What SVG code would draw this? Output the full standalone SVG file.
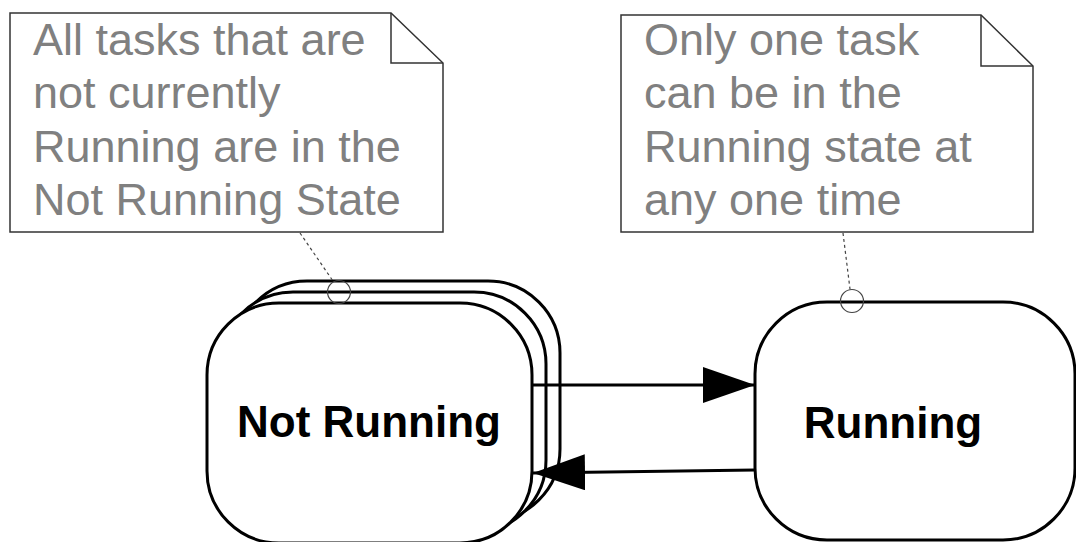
<svg xmlns="http://www.w3.org/2000/svg" width="1076" height="542" viewBox="0 0 1076 542">
<style>
.note{fill:#fff;stroke:#333;stroke-width:1.5}
.fold{fill:none;stroke:#333;stroke-width:1.5}
.ntext{font-family:"Liberation Sans",Arial,sans-serif;font-size:45px;fill:#808080}
.state{fill:#fff;stroke:#000;stroke-width:3}
.label{font-family:"Liberation Sans",Arial,sans-serif;font-size:44px;font-weight:bold;fill:#000;text-anchor:middle}
.anchor{fill:none;stroke:#444;stroke-width:1.2}
.dash{fill:none;stroke:#444;stroke-width:1.2;stroke-dasharray:3,3}
.conn{fill:none;stroke:#000;stroke-width:3}
</style>
<defs>
<marker id="arr" markerUnits="userSpaceOnUse" markerWidth="54" markerHeight="36" refX="52" refY="18" orient="auto">
<path d="M0,0 L52,18 L0,36 Z" fill="#000"/>
</marker>
</defs>
<rect width="1076" height="542" fill="#fff"/>
<g id="note1">
<path class="note" d="M10,13 H391 L443,63 V232 H10 Z"/>
<path class="fold" d="M391,13 V63 H443"/>
<text class="ntext" x="33" y="55">All tasks that are</text>
<text class="ntext" x="33" y="108">not currently</text>
<text class="ntext" x="33" y="162">Running are in the</text>
<text class="ntext" x="33" y="215">Not Running State</text>
</g>
<g id="note2">
<path class="note" d="M621,15 H981 L1033,66 V232 H621 Z"/>
<path class="fold" d="M981,15 V66 H1033"/>
<text class="ntext" x="644" y="55">Only one task</text>
<text class="ntext" x="644" y="108">can be in the</text>
<text class="ntext" x="644" y="162">Running state at</text>
<text class="ntext" x="644" y="215">any one time</text>
</g>
<g id="notRunning">
<rect class="state" x="235" y="281" width="325" height="240" rx="72" ry="72"/>
<rect class="state" x="221" y="292" width="325" height="240" rx="72" ry="72"/>
<rect class="state" x="207" y="303" width="325" height="240" rx="72" ry="72"/>
<text class="label" x="369" y="437">Not Running</text>
</g>
<g id="running">
<rect class="state" x="755" y="302" width="320" height="238" rx="72" ry="72"/>
<text class="label" x="893" y="438">Running</text>
</g>
<g id="connectors">
<line class="conn" x1="532" y1="385" x2="755" y2="385" marker-end="url(#arr)"/>
<line class="conn" x1="755" y1="470" x2="533" y2="473" marker-end="url(#arr)"/>
<line class="dash" x1="300" y1="233" x2="333" y2="281"/>
<circle class="anchor" cx="339" cy="292" r="11.5"/>
<line class="dash" x1="843" y1="233" x2="850" y2="289"/>
<circle class="anchor" cx="852" cy="301" r="11.5"/>
</g>
</svg>
